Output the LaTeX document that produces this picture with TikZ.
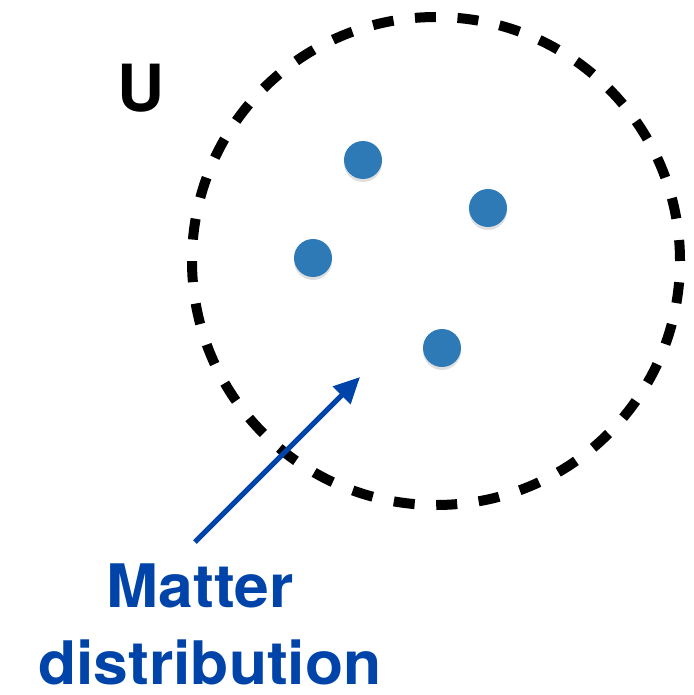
\documentclass[tikz,border=0pt]{standalone}
\usepackage{fontspec}
\setmainfont{TeX Gyre Heros}
\newfontfamily\widefont[FakeStretch=1.04]{TeX Gyre Heros}
\usetikzlibrary{arrows.meta,shadows}
\definecolor{dotblue}{RGB}{46,122,182}
\definecolor{textblue}{RGB}{0,68,170}
\tikzset{
  matter/.style={circle, fill=dotblue, minimum size=38pt, inner sep=0pt,
    drop shadow={shadow xshift=0pt, shadow yshift=-3pt, opacity=0.25}},
  label/.style={font=\widefont\fontsize{60}{78}\selectfont\bfseries, text=textblue, inner sep=0pt}
}
\begin{document}
\begin{tikzpicture}[x=1pt, y=-1pt]
        \useasboundingbox (0,0) rectangle (693,695);
        % the universe
        \draw[color = black, line width=10pt, dash pattern=on 21pt off 21.6pt] (436,261) circle (244pt);
        \node[anchor=base, font=\fontsize{65}{70}\selectfont\bfseries, inner sep=0pt] (u) at (141,112) {U};
        % matter
        \node[matter] (m1) at (363,160) {};
        \node[matter] (m2) at (488,208) {};
        \node[matter] (m3) at (313,258) {};
        \node[matter] (m4) at (442,348) {};
        % label
        \node[label, anchor=base] (lbl1) at (200,607) {Matter};
        \node[label, anchor=base] (lbl2) at (210,684) {distribution};
        \coordinate (from) at (195,542);
        \coordinate (to) at (360,377);
        \draw[color = textblue, line width=5pt, -{Triangle[length=26pt, width=24pt]}] (from) -- (to);
\end{tikzpicture}
\end{document}
